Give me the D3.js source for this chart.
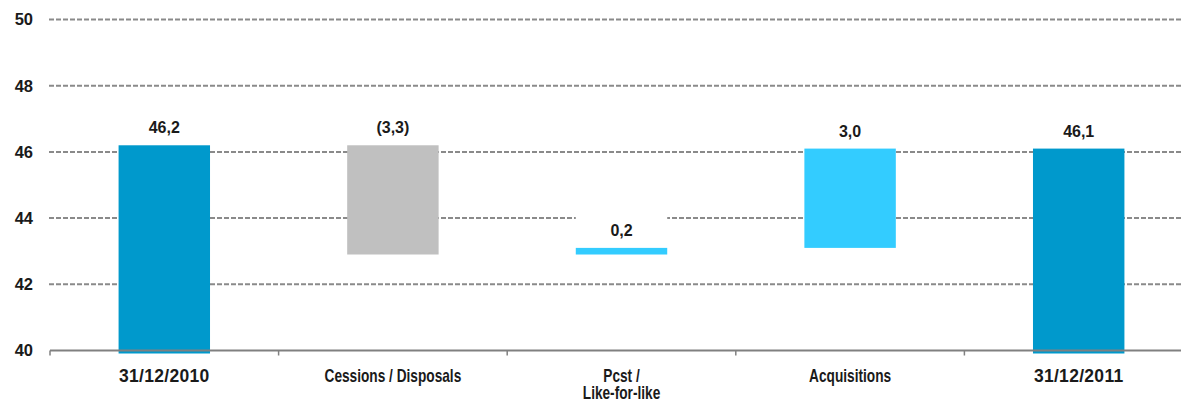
<!DOCTYPE html>
<html>
<head>
<meta charset="utf-8">
<script src="https://cdn.jsdelivr.net/npm/d3@7/dist/d3.min.js"></script>
<style>
  html, body { margin: 0; padding: 0; background: #fff; }
  svg { display: block; }
  text { font-family: "Liberation Sans", Arial, sans-serif; font-weight: bold; }
</style>
</head>
<body>
<svg id="chart" width="1181" height="401"></svg>
<script>
// Bridge of the year: opening total, movements, closing total
const categories = ["31/12/2010", "Cessions / Disposals", "Pcst /\nLike-for-like", "Acquisitions", "31/12/2011"];
const values     = [46.2, -3.3, 0.2, 3.0, 46.1];
const kinds      = ["total", "delta", "delta", "delta", "total"];
const valueLabels = ["46,2", "(3,3)", "0,2", "3,0", "46,1"];
const barColors  = ["#0099CC", "#C0C0C0", "#33CCFF", "#33CCFF", "#0099CC"];
const yTicks     = [40, 42, 44, 46, 48, 50];
const yTickLabels = ["40", "42", "44", "46", "48", "50"];

const svg = d3.select("#chart");
const W = 1181, H = 401;
const plot = { left: 50, right: 1193, top: 19.5, bottom: 350.5 };

const x = d3.scaleBand().domain(categories).range([plot.left, plot.right]).padding(0);
const y = d3.scaleLinear().domain([40, 50]).range([plot.bottom, plot.top]);
const barW = x.bandwidth() * 0.4;

// Compute floating segments of the waterfall
let running = 0;
const bars = categories.map((c, i) => {
  let lo, hi;
  if (kinds[i] === "total") {
    lo = 40; hi = values[i]; running = values[i];
  } else {
    const start = running, end = running + values[i];
    lo = Math.min(start, end); hi = Math.max(start, end); running = end;
  }
  return { cat: c, lo, hi, color: barColors[i], label: valueLabels[i] };
});

// Dashed horizontal gridlines
svg.append("g")
  .selectAll("line")
  .data(yTicks.filter(t => t > 40))
  .join("line")
  .attr("x1", 49).attr("x2", W)
  .attr("y1", d => y(d)).attr("y2", d => y(d))
  .attr("stroke", "#8a8a8a")
  .attr("stroke-width", 2)
  .attr("stroke-dasharray", "5,2");

// Y axis labels
svg.append("g")
  .selectAll("text")
  .data(yTicks)
  .join("text")
  .attr("x", 33)
  .attr("y", d => y(d))
  .attr("dy", "0.36em")
  .attr("text-anchor", "end")
  .attr("font-size", 16.5)
  .attr("fill", "#1a1a1a")
  .text((d, i) => yTickLabels[i]);

// Bars
svg.append("g")
  .selectAll("rect")
  .data(bars)
  .join("rect")
  .attr("x", d => x(d.cat) + (x.bandwidth() - barW) / 2)
  .attr("width", barW)
  .attr("y", d => y(d.hi))
  .attr("height", d => y(d.lo) - y(d.hi) + (d.lo === 40 ? 3 : 0))
  .attr("fill", d => d.color);

// Value labels with white backing
const lbl = svg.append("g").selectAll("g").data(bars).join("g");
lbl.append("rect")
  .attr("x", d => x(d.cat) + (x.bandwidth() - barW) / 2)
  .attr("width", barW)
  .attr("y", d => y(d.hi) - 34)
  .attr("height", 31)
  .attr("fill", "#fff");
lbl.append("text")
  .attr("x", d => x(d.cat) + x.bandwidth() / 2)
  .attr("y", d => y(d.hi) - 12)
  .attr("text-anchor", "middle")
  .attr("font-size", 16)
  .attr("fill", "#1a1a1a")
  .text(d => d.label);

// Category axis
const axisY = y(40);
svg.append("line")
  .attr("x1", plot.left).attr("x2", W)
  .attr("y1", axisY).attr("y2", axisY)
  .attr("stroke", "#808080").attr("stroke-width", 2);

svg.append("g")
  .selectAll("line")
  .data(categories)
  .join("line")
  .attr("x1", d => x(d)).attr("x2", d => x(d))
  .attr("y1", axisY).attr("y2", axisY + 5)
  .attr("stroke", "#808080").attr("stroke-width", 1.5);

// Category labels: dates at full width, word labels condensed
const isDate = d => /^[\d\/]+$/.test(d);
const cat = svg.append("g")
  .selectAll("g")
  .data(categories)
  .join("g")
  .attr("transform", d => `translate(${x(d) + x.bandwidth() / 2},382) scale(${isDate(d) ? 1 : 0.76},1)`);
cat.append("text")
  .attr("text-anchor", "middle")
  .attr("font-size", d => isDate(d) ? 17.5 : 18)
  .attr("letter-spacing", d => isDate(d) ? 0.3 : 0)
  .attr("fill", "#1a1a1a")
  .each(function(d) {
    d3.select(this).selectAll("tspan")
      .data(d.split("\n"))
      .join("tspan")
      .attr("x", 0)
      .attr("dy", (l, i) => i === 0 ? 0 : 17)
      .text(l => l);
  });
</script>
</body>
</html>
